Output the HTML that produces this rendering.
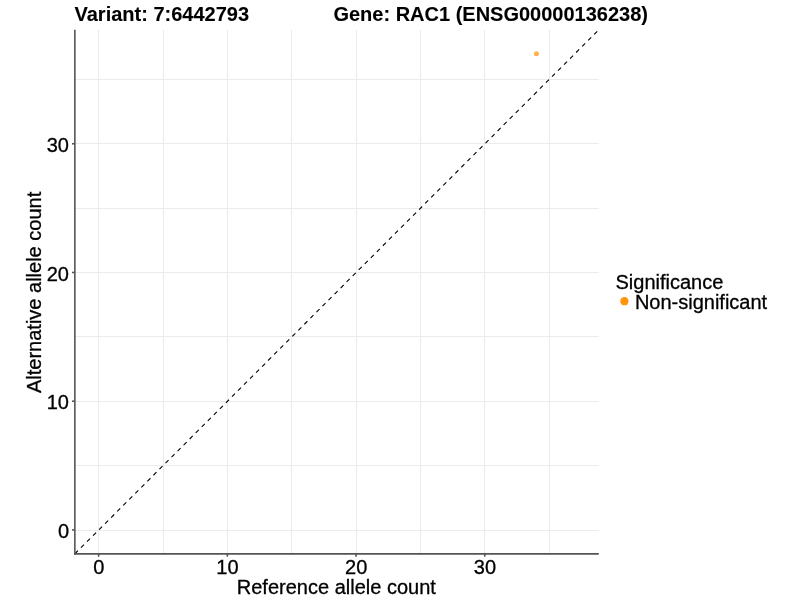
<!DOCTYPE html>
<html><head><meta charset="utf-8"><style>
html,body{margin:0;padding:0;background:#fff;width:800px;height:600px;overflow:hidden}
svg{display:block;will-change:transform}
text{font-family:"Liberation Sans",sans-serif;font-size:20px;fill:#000;stroke:#000;stroke-width:0.3px}
.t{stroke:#555555;stroke-width:1.6}
</style></head><body>
<svg width="800" height="600" viewBox="0 0 800 600">
<rect width="800" height="600" fill="#fff"/>
<rect x="98" y="30" width="1" height="524" fill="#EBEBEB"/>
<rect x="163" y="30" width="1" height="524" fill="#EBEBEB"/>
<rect x="227" y="30" width="1" height="524" fill="#EBEBEB"/>
<rect x="291" y="30" width="1" height="524" fill="#EBEBEB"/>
<rect x="356" y="30" width="1" height="524" fill="#EBEBEB"/>
<rect x="420" y="30" width="1" height="524" fill="#EBEBEB"/>
<rect x="484" y="30" width="1" height="524" fill="#EBEBEB"/>
<rect x="549" y="30" width="1" height="524" fill="#EBEBEB"/>
<rect x="75" y="530" width="524" height="1" fill="#EBEBEB"/>
<rect x="75" y="465" width="524" height="1" fill="#EBEBEB"/>
<rect x="75" y="401" width="524" height="1" fill="#EBEBEB"/>
<rect x="75" y="336" width="524" height="1" fill="#EBEBEB"/>
<rect x="75" y="272" width="524" height="1" fill="#EBEBEB"/>
<rect x="75" y="208" width="524" height="1" fill="#EBEBEB"/>
<rect x="75" y="143" width="524" height="1" fill="#EBEBEB"/>
<rect x="75" y="79" width="524" height="1" fill="#EBEBEB"/>
<line x1="74.94" y1="553.75" x2="598.8" y2="29.8" stroke="#000" stroke-width="1.1" stroke-dasharray="4.27 4.27"/>
<circle cx="536.40" cy="53.67" r="2.5" fill="#FF950C" fill-opacity="0.75"/>
<line x1="74.85" y1="29.8" x2="74.85" y2="554.65" class="t"/>
<line x1="74.05" y1="553.85" x2="598.8" y2="553.85" class="t"/>
<line x1="72" y1="529.93" x2="74.85" y2="529.93" class="t"/><line x1="98.60" y1="553.85" x2="98.60" y2="556.7" class="t"/><line x1="72" y1="401.21" x2="74.85" y2="401.21" class="t"/><line x1="227.32" y1="553.85" x2="227.32" y2="556.7" class="t"/><line x1="72" y1="272.49" x2="74.85" y2="272.49" class="t"/><line x1="356.04" y1="553.85" x2="356.04" y2="556.7" class="t"/><line x1="72" y1="143.77" x2="74.85" y2="143.77" class="t"/><line x1="484.76" y1="553.85" x2="484.76" y2="556.7" class="t"/>
<text x="69.0" y="538.03" text-anchor="end">0</text><text x="98.75" y="573.7" text-anchor="middle">0</text><text x="69.0" y="409.31" text-anchor="end">10</text><text x="227.47" y="573.7" text-anchor="middle">10</text><text x="69.0" y="280.59" text-anchor="end">20</text><text x="356.19" y="573.7" text-anchor="middle">20</text><text x="69.0" y="151.87" text-anchor="end">30</text><text x="484.91" y="573.7" text-anchor="middle">30</text>
<text x="74.5" y="20.6" font-weight="bold" style="stroke-width:0.1px">Variant: 7:6442793</text>
<text x="333.4" y="20.6" font-weight="bold" style="stroke-width:0.1px">Gene: RAC1 (ENSG00000136238)</text>
<text x="236.8" y="593.9">Reference allele count</text>
<text transform="translate(41 393) rotate(-90)">Alternative allele count</text>
<text x="615.5" y="289">Significance</text>
<circle cx="624.4" cy="301.2" r="4.15" fill="#FF950C"/>
<text x="634.9" y="308.7">Non-significant</text>
</svg>
</body></html>
